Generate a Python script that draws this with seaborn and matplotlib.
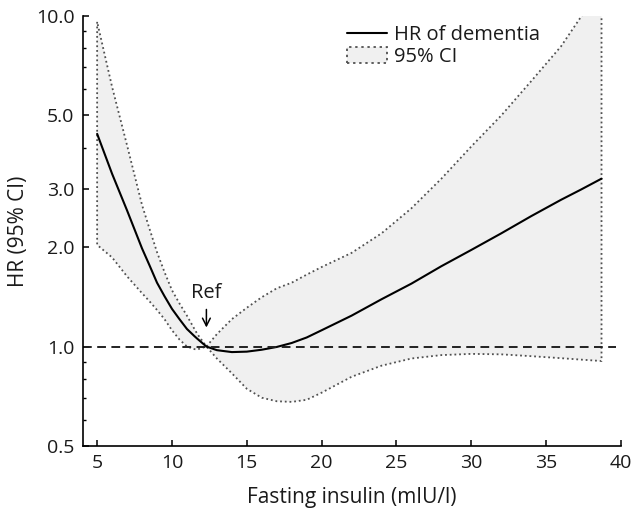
import matplotlib
matplotlib.use("Agg")
import matplotlib.pyplot as plt
import pandas as pd
import seaborn as sns
from matplotlib.ticker import FixedLocator, FormatStrFormatter, LogLocator, NullFormatter


# values
insulin = [5, 6, 7, 8, 8.5, 9, 9.5, 10, 10.5, 11, 11.5, 11.7, 12.3, 13, 14, 15,
           16, 17, 18, 19, 20, 22, 24, 26, 28, 30, 32, 34, 36, 37.3, 38.7]
hr = [4.4, 3.33, 2.58, 1.98, 1.76, 1.56, 1.42, 1.30, 1.21, 1.13, 1.075, 1.055,
      1.0, 0.975, 0.962, 0.965, 0.978, 0.997, 1.025, 1.065, 1.12, 1.24, 1.39,
      1.55, 1.75, 1.96, 2.2, 2.48, 2.78, 2.98, 3.22]
ci_upper = [9.6, 6.1, 4.06, 2.68, 2.27, 1.93, 1.68, 1.48, 1.35, 1.24, 1.13, 1.09,
            1.0, 1.09, 1.21, 1.31, 1.41, 1.50, 1.56, 1.65, 1.74, 1.92, 2.20, 2.62,
            3.22, 4.03, 5.0, 6.35, 8.1, 9.9, 12.0]
ci_lower = [2.03, 1.86, 1.63, 1.45, 1.37, 1.29, 1.21, 1.12, 1.05, 1.0, 0.982, 0.98,
            1.0, 0.92, 0.83, 0.745, 0.70, 0.683, 0.68, 0.69, 0.725, 0.81, 0.875,
            0.92, 0.942, 0.95, 0.947, 0.935, 0.922, 0.913, 0.904]

x_ticks = [5, 10, 15, 20, 25, 30, 35, 40]
y_ticks = [0.5, 1.0, 2.0, 3.0, 5.0, 10.0]
ref_insulin = 12.3

FILL_COLOR = "#f0f0f0"
DOT_COLOR = "#505050"
TEXT_COLOR = "#1a1a1a"

sns.set_style("ticks")
plt.rcParams["font.family"] = ["Open Sans", "DejaVu Sans"]
plt.rcParams["text.color"] = TEXT_COLOR
plt.rcParams["axes.labelcolor"] = TEXT_COLOR
plt.rcParams["xtick.color"] = TEXT_COLOR
plt.rcParams["ytick.color"] = TEXT_COLOR

df = pd.DataFrame({"insulin": insulin, "hr": hr,
                   "lower": ci_lower, "upper": ci_upper})

fig = plt.figure(figsize=(6.33, 5.08), dpi=100)
ax = fig.add_axes([0.131, 0.122, 0.981 - 0.131, 0.9685 - 0.122])

ax.fill_between(df["insulin"], df["lower"], df["upper"],
                facecolor=FILL_COLOR, edgecolor=DOT_COLOR,
                linestyle=(0, (1, 1.6)), linewidth=1.3, label="95% CI")
sns.lineplot(data=df, x="insulin", y="hr", color="black", linewidth=1.5,
             label="HR of dementia", ax=ax)
ax.axhline(1.0, xmin=0, xmax=(39.7 - 4.05) / (40 - 4.05), color="#222222",
           linewidth=1.4, dashes=(4.5, 2.8))

ax.set_yscale("log")
ax.set_xlim(4.05, 40)
ax.set_ylim(0.5, 10)
ax.xaxis.set_major_locator(FixedLocator(x_ticks))
ax.yaxis.set_major_locator(FixedLocator(y_ticks))
ax.yaxis.set_major_formatter(FormatStrFormatter("%.1f"))
ax.yaxis.set_minor_locator(LogLocator(base=10, subs=range(2, 10)))
ax.yaxis.set_minor_formatter(NullFormatter())
ax.tick_params(which="major", direction="in", length=4, width=1.1,
               labelsize=14, pad=6, color="black", labelcolor=TEXT_COLOR)
ax.tick_params(which="minor", direction="in", length=2.5, width=1.0, color="black")

for side in ("top", "right"):
    ax.spines[side].set_visible(False)
for side in ("left", "bottom"):
    ax.spines[side].set_linewidth(1.2)
    ax.spines[side].set_color("black")

ax.set_xlabel("Fasting insulin (mIU/l)", fontsize=15)
ax.set_ylabel("HR (95% CI)", fontsize=15)
ax.xaxis.set_label_coords(0.5, -0.096)
ax.yaxis.set_label_coords(-0.1, 0.5)

ax.annotate("", xy=(ref_insulin, 1.12), xytext=(ref_insulin, 1.32),
            arrowprops=dict(arrowstyle="->,head_length=0.55,head_width=0.28",
                            color="black", lw=1.1))
ax.text(ref_insulin, 1.40, "Ref", ha="center", va="baseline", fontsize=14.5)

handles, labels = ax.get_legend_handles_labels()
order = [labels.index("HR of dementia"), labels.index("95% CI")]
ax.legend([handles[i] for i in order], [labels[i] for i in order],
          loc="upper left", bbox_to_anchor=(0.49, 0.979), frameon=False,
          fontsize=14.5, borderpad=0, borderaxespad=0, handlelength=2.0,
          handleheight=0.85, handletextpad=0.35, labelspacing=0.1)

fig.savefig("out.png", dpi=100)
